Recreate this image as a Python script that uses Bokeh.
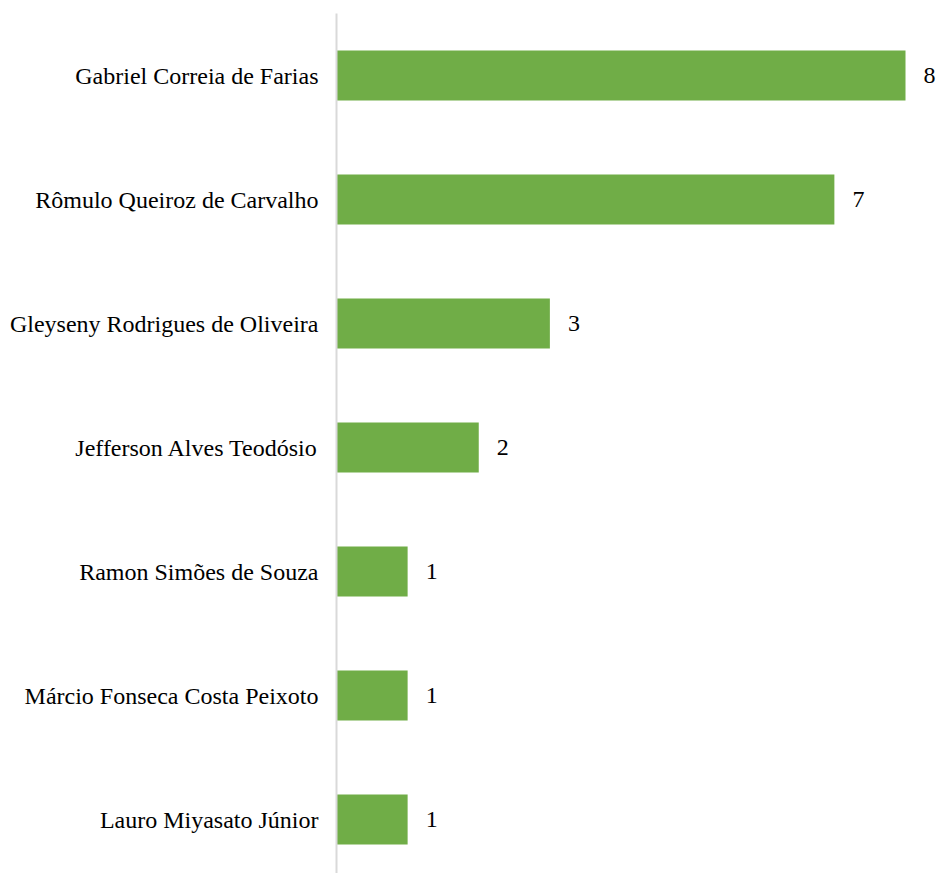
from bokeh.plotting import figure
from bokeh.models import ColumnDataSource, Range1d, FixedTicker
from bokeh.core.properties import value
from bokeh.embed import file_html
from bokeh.resources import INLINE

names = [
    "Gabriel Correia de Farias",
    "Rômulo Queiroz de Carvalho",
    "Gleyseny Rodrigues de Oliveira",
    "Jefferson Alves Teodósio",
    "Ramon Simões de Souza",
    "Márcio Fonseca Costa Peixoto",
    "Lauro Miyasato Júnior",
]
counts = [8, 7, 3, 2, 1, 1, 1]

pos = list(range(len(names)))
src = ColumnDataSource(dict(y=pos, v=counts, lbl=[str(c) for c in counts]))

FONT = "Liberation Serif"

p = figure(width=939, height=873, output_backend="svg", toolbar_location=None,
           x_range=Range1d(0, 8.478), y_range=Range1d(6.435, -0.5),
           min_border_left=336, min_border_top=13, min_border_bottom=0, min_border_right=0)
p.outline_line_color = None
p.grid.grid_line_color = None
p.xaxis.visible = False

p.hbar(y="y", right="v", left=0, height=0.403, source=src,
       fill_color="#70AD47", line_color=None)
p.text(x="v", y="y", text="lbl", source=src, x_offset=18,
       text_align="left", text_baseline="middle",
       text_font=value(FONT), text_font_size="24px", text_color="#000000")

ya = p.yaxis[0]
ya.ticker = FixedTicker(ticks=pos)
ya.major_label_overrides = {i: n for i, n in enumerate(names)}
ya.major_label_text_font = FONT
ya.major_label_text_font_size = "24px"
ya.major_label_text_color = "#000000"
ya.major_tick_line_color = None
ya.minor_tick_line_color = None
ya.major_label_standoff = 12
ya.axis_line_color = "#D9D9D9"
ya.axis_line_width = 2

open("out.html", "w").write(file_html(p, INLINE))
